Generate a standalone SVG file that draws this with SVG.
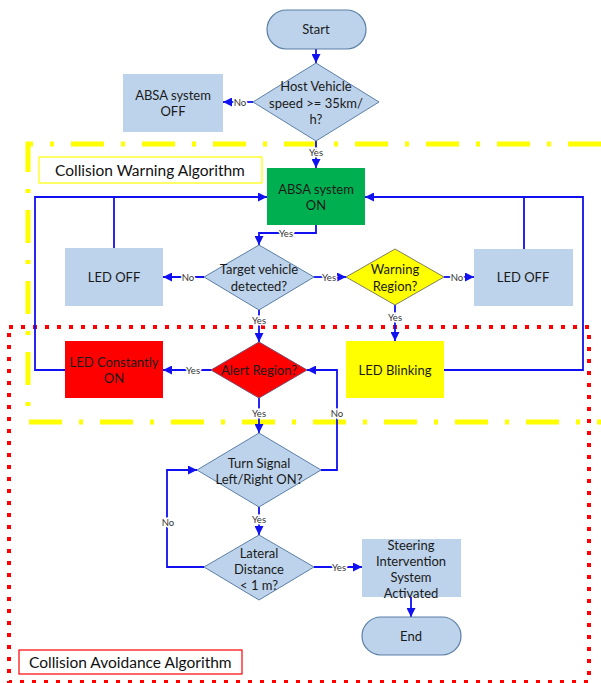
<svg xmlns="http://www.w3.org/2000/svg" width="601" height="683" viewBox="0 0 601 683">
<style>
  .t { font-family: Lato, "Liberation Sans", sans-serif; font-size: 13px; fill: #1a1a1a; text-anchor: middle; dominant-baseline: central; }
  .lbl { font-family: Lato, "Liberation Sans", sans-serif; font-size: 9.5px; fill: #333; text-anchor: middle; dominant-baseline: central; stroke: #fff; stroke-width: 3px; paint-order: stroke; }
  .title { font-family: Lato, "Liberation Sans", sans-serif; font-size: 15.5px; fill: #111; dominant-baseline: central; }
  .box { fill: #BDD3EB; }
  .dia { fill: #BDD3EB; stroke: #5B7FA6; stroke-width: 1; }
  .term { fill: #BDD3EB; stroke: #5B7FA6; stroke-width: 1.2; }
  .c { fill: none; stroke: #1010F0; stroke-width: 1.8; }
  .ca { fill: none; stroke: #1010F0; stroke-width: 1.8; marker-end: url(#arr); }
</style>
<defs>
  <marker id="arr" viewBox="0 0 10 10" refX="10" refY="5" markerWidth="9" markerHeight="9" markerUnits="userSpaceOnUse" orient="auto">
    <path d="M0,0 L10,5 L0,10 z" fill="#1010F0"/>
  </marker>
</defs>
<rect width="601" height="683" fill="#fff"/>

<!-- region frames -->
<g id="warning-region">
  <path d="M601,144 H28 V422 H601" fill="none" stroke="#FFFF00" stroke-width="5" stroke-dasharray="33 17 4 17"/>
  <rect x="39" y="157" width="223" height="26" fill="#fff" stroke="#FFFF00" stroke-width="1.2"/>
  <text class="title" x="55" y="170">Collision Warning Algorithm</text>
</g>
<g id="avoidance-region">
  <rect x="9" y="327" width="580" height="355" fill="none" stroke="#FF0000" stroke-width="4" stroke-dasharray="4 8"/>
  <rect x="19" y="650" width="223" height="24" fill="#fff" stroke="#FF0000" stroke-width="1.2"/>
  <text class="title" x="29" y="662">Collision Avoidance Algorithm</text>
</g>

<!-- connectors -->
<g id="connectors">
  <path class="ca" d="M316,49 V63"/>
  <path class="ca" d="M253,102 H223"/>
  <path class="ca" d="M316,141 V168"/>
  <path class="ca" d="M316,225 V233 H259 V245"/>
  <path class="ca" d="M204,277 H163"/>
  <path class="ca" d="M314,277 H346"/>
  <path class="ca" d="M444,277 H474"/>
  <path class="c" d="M114,248 V197"/>
  <path class="ca" d="M65,370 H35 V197 H267"/>
  <path class="c" d="M444,370 H583 V197 H524"/>
  <path class="ca" d="M524,249 V197 H365"/>
  <path class="ca" d="M395,305 V341"/>
  <path class="ca" d="M259,310 V342"/>
  <path class="ca" d="M211,370 H163"/>
  <path class="ca" d="M259,398 V433"/>
  <path class="ca" d="M321,470 H337 V370 H307"/>
  <path class="ca" d="M259,507 V535"/>
  <path class="ca" d="M204,567 H167 V470 H197"/>
  <path class="ca" d="M314,567 H362"/>
  <path class="ca" d="M411,597 V617"/>
  <text class="lbl" x="240" y="102">No</text>
  <text class="lbl" x="316" y="152">Yes</text>
  <text class="lbl" x="286" y="233">Yes</text>
  <text class="lbl" x="188" y="277">No</text>
  <text class="lbl" x="329" y="277">Yes</text>
  <text class="lbl" x="457" y="277">No</text>
  <text class="lbl" x="395" y="317">Yes</text>
  <text class="lbl" x="259" y="320">Yes</text>
  <text class="lbl" x="193" y="370">Yes</text>
  <text class="lbl" x="259" y="413">Yes</text>
  <text class="lbl" x="337" y="413">No</text>
  <text class="lbl" x="259" y="519">Yes</text>
  <text class="lbl" x="168" y="522">No</text>
  <text class="lbl" x="339" y="567">Yes</text>
</g>

<!-- nodes -->
<g id="start">
  <rect class="term" x="267" y="10" width="99" height="39" rx="19.5"/>
  <text class="t" x="316" y="29">Start</text>
</g>
<g id="speed-check">
  <polygon class="dia" points="316,63 379,102 316,141 253,102"/>
  <text class="t" x="316" y="86">Host Vehicle</text>
  <text class="t" x="316" y="103">speed &gt;= 35km/</text>
  <text class="t" x="316" y="119">h?</text>
</g>
<g id="absa-off">
  <rect class="box" x="123" y="74" width="100" height="58"/>
  <text class="t" x="173" y="95">ABSA system</text>
  <text class="t" x="173" y="111">OFF</text>
</g>
<g id="absa-on">
  <rect x="267" y="168" width="98" height="57" fill="#00B050"/>
  <text class="t" x="316" y="189">ABSA system</text>
  <text class="t" x="316" y="205">ON</text>
</g>
<g id="target-detected">
  <polygon class="dia" points="259,245 314,277 259,310 204,277"/>
  <text class="t" x="259" y="269">Target vehicle</text>
  <text class="t" x="259" y="286">detected?</text>
</g>
<g id="led-off-left">
  <rect class="box" x="65" y="248" width="98" height="58"/>
  <text class="t" x="114" y="277">LED OFF</text>
</g>
<g id="warning-region-check">
  <polygon points="395,249 444,277 395,305 346,277" fill="#FFFF00" stroke="#7F7F5B" stroke-width="1"/>
  <text class="t" x="395" y="269">Warning</text>
  <text class="t" x="395" y="286">Region?</text>
</g>
<g id="led-off-right">
  <rect class="box" x="474" y="249" width="99" height="57"/>
  <text class="t" x="523" y="277">LED OFF</text>
</g>
<g id="alert-region-check">
  <polygon points="259,342 307,370 259,398 211,370" fill="#FF0000" stroke="#7A4A6A" stroke-width="1"/>
  <text class="t" x="259" y="370">Alert Region?</text>
</g>
<g id="led-constant">
  <rect x="65" y="341" width="98" height="57" fill="#FF0000"/>
  <text class="t" x="114" y="362">LED Constantly</text>
  <text class="t" x="114" y="378">ON</text>
</g>
<g id="led-blinking">
  <rect x="346" y="341" width="98" height="57" fill="#FFFF00"/>
  <text class="t" x="395" y="370">LED Blinking</text>
</g>
<g id="turn-signal">
  <polygon class="dia" points="259,433 321,470 259,507 197,470"/>
  <text class="t" x="259" y="463">Turn Signal</text>
  <text class="t" x="259" y="479">Left/Right ON?</text>
</g>
<g id="lateral-distance">
  <polygon class="dia" points="259,535 314,567 259,600 204,567"/>
  <text class="t" x="259" y="553">Lateral</text>
  <text class="t" x="259" y="569">Distance</text>
  <text class="t" x="259" y="585">&lt; 1 m?</text>
</g>
<g id="steering">
  <rect class="box" x="362" y="539" width="99" height="58"/>
  <text class="t" x="411" y="545">Steering</text>
  <text class="t" x="411" y="561">Intervention</text>
  <text class="t" x="411" y="577">System</text>
  <text class="t" x="411" y="593">Activated</text>
</g>
<g id="end">
  <rect class="term" x="362" y="617" width="99" height="38" rx="19"/>
  <text class="t" x="411" y="636">End</text>
</g>
</svg>
